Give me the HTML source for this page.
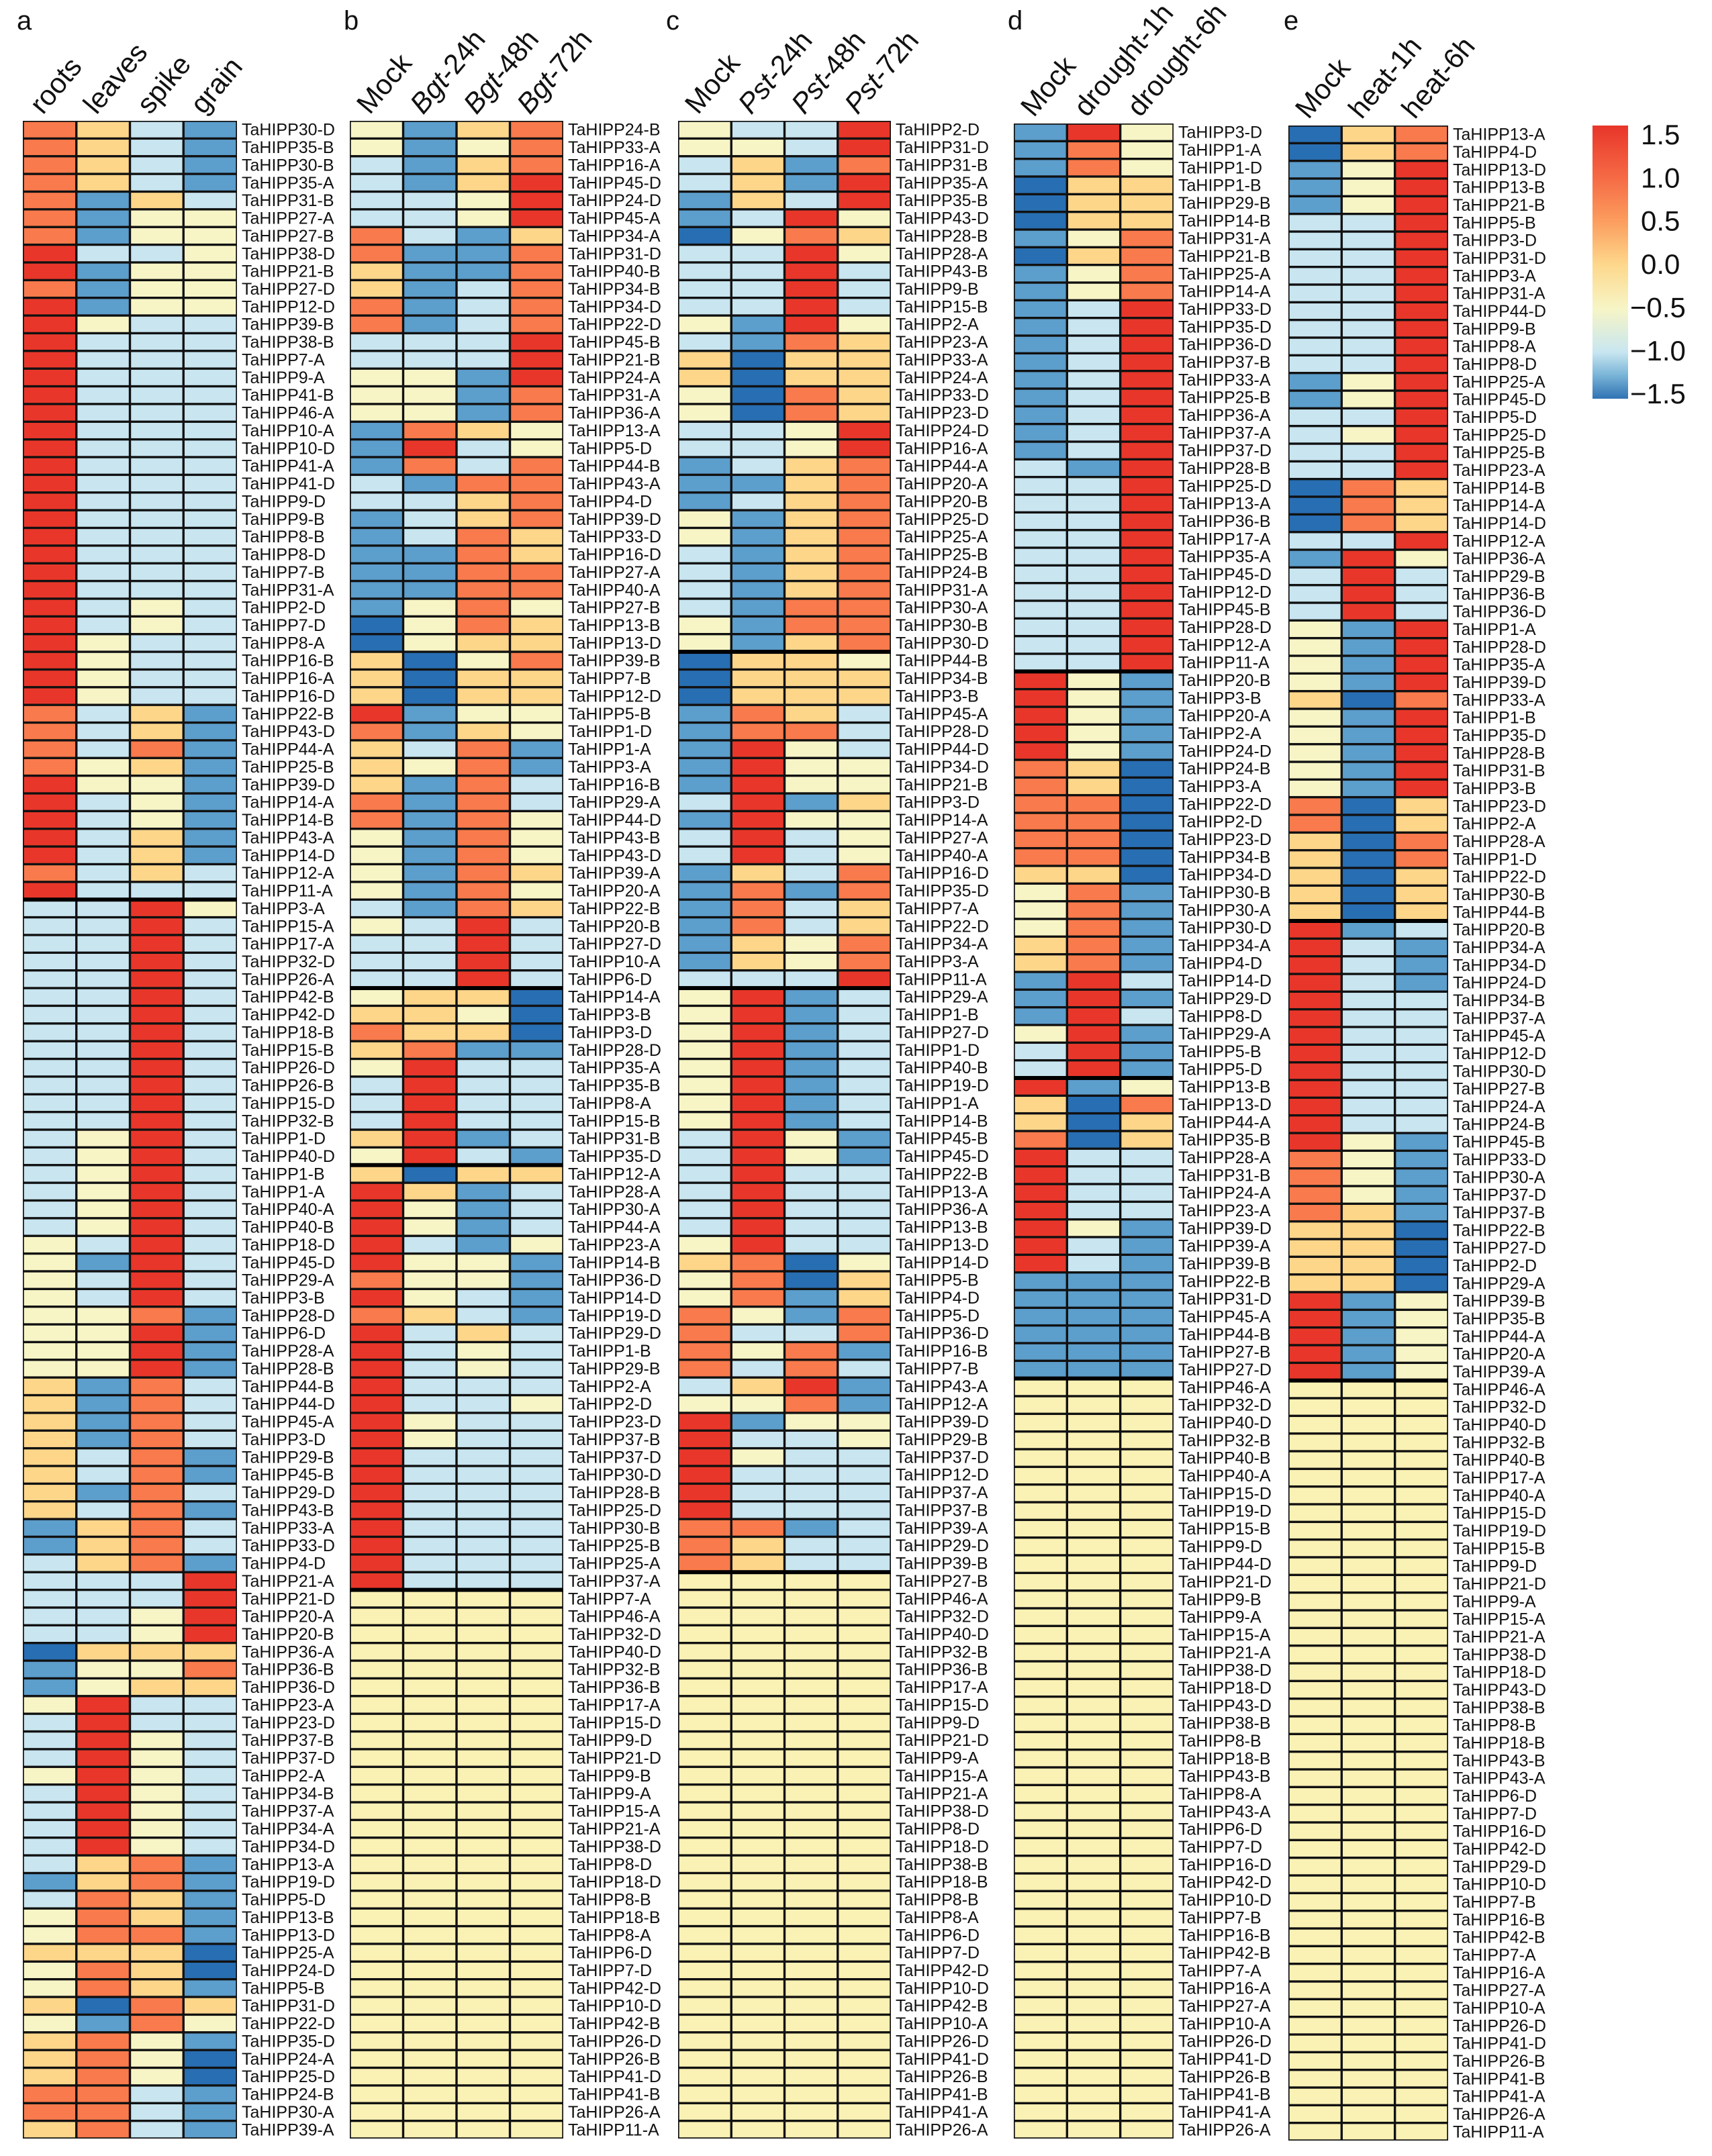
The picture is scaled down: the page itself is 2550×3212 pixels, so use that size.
<!DOCTYPE html>
<html><head><meta charset="utf-8">
<style>
html,body{margin:0;padding:0;background:#fff;}
svg{display:block;font-family:"Liberation Sans",Arial,sans-serif;}
</style></head>
<body>
<svg id="fig" width="2550" height="3212" viewBox="0 0 2550 3212" xmlns="http://www.w3.org/2000/svg">
<defs>
<linearGradient id="cbgrad" x1="0" y1="0" x2="0" y2="1">
<stop offset="0" stop-color="#e8352a"/>
<stop offset="0.19" stop-color="#f56a45"/>
<stop offset="0.35" stop-color="#fc9d5e"/>
<stop offset="0.51" stop-color="#fdd88c"/>
<stop offset="0.67" stop-color="#f7f5c6"/>
<stop offset="0.83" stop-color="#c8e6f1"/>
<stop offset="0.91" stop-color="#7db7d8"/>
<stop offset="1" stop-color="#2f73b4"/>
</linearGradient>
</defs>
<g id="layer"></g>
</svg>
<script>
// ---- data ----
const aCols = ["roots","leaves","spike","grain"];
const bCols = ["Mock","Bgt-24h","Bgt-48h","Bgt-72h"];
const cCols = ["Mock","Pst-24h","Pst-48h","Pst-72h"];
const dCols = ["Mock","drought-1h","drought-6h"];
const eCols = ["Mock","heat-1h","heat-6h"];

const aLabels = "30-D 35-B 30-B 35-A 31-B 27-A 27-B 38-D 21-B 27-D 12-D 39-B 38-B 7-A 9-A 41-B 46-A 10-A 10-D 41-A 41-D 9-D 9-B 8-B 8-D 7-B 31-A 2-D 7-D 8-A 16-B 16-A 16-D 22-B 43-D 44-A 25-B 39-D 14-A 14-B 43-A 14-D 12-A 11-A 3-A 15-A 17-A 32-D 26-A 42-B 42-D 18-B 15-B 26-D 26-B 15-D 32-B 1-D 40-D 1-B 1-A 40-A 40-B 18-D 45-D 29-A 3-B 28-D 6-D 28-A 28-B 44-B 44-D 45-A 3-D 29-B 45-B 29-D 43-B 33-A 33-D 4-D 21-A 21-D 20-A 20-B 36-A 36-B 36-D 23-A 23-D 37-B 37-D 2-A 34-B 37-A 34-A 34-D 13-A 19-D 5-D 13-B 13-D 25-A 24-D 5-B 31-D 22-D 35-D 24-A 25-D 24-B 30-A 39-A".split(" ");
const bLabels = "24-B 33-A 16-A 45-D 24-D 45-A 34-A 31-D 40-B 34-B 34-D 22-D 45-B 21-B 24-A 31-A 36-A 13-A 5-D 44-B 43-A 4-D 39-D 33-D 16-D 27-A 40-A 27-B 13-B 13-D 39-B 7-B 12-D 5-B 1-D 1-A 3-A 16-B 29-A 44-D 43-B 43-D 39-A 20-A 22-B 20-B 27-D 10-A 6-D 14-A 3-B 3-D 28-D 35-A 35-B 8-A 15-B 31-B 35-D 12-A 28-A 30-A 44-A 23-A 14-B 36-D 14-D 19-D 29-D 1-B 29-B 2-A 2-D 23-D 37-B 37-D 30-D 28-B 25-D 30-B 25-B 25-A 37-A 7-A 46-A 32-D 40-D 32-B 36-B 17-A 15-D 9-D 21-D 9-B 9-A 15-A 21-A 38-D 8-D 18-D 8-B 18-B 8-A 6-D 7-D 42-D 10-D 42-B 26-D 26-B 41-D 41-B 26-A 11-A".split(" ");
const cLabels = "2-D 31-D 31-B 35-A 35-B 43-D 28-B 28-A 43-B 9-B 15-B 2-A 23-A 33-A 24-A 33-D 23-D 24-D 16-A 44-A 20-A 20-B 25-D 25-A 25-B 24-B 31-A 30-A 30-B 30-D 44-B 34-B 3-B 45-A 28-D 44-D 34-D 21-B 3-D 14-A 27-A 40-A 16-D 35-D 7-A 22-D 34-A 3-A 11-A 29-A 1-B 27-D 1-D 40-B 19-D 1-A 14-B 45-B 45-D 22-B 13-A 36-A 13-B 13-D 14-D 5-B 4-D 5-D 36-D 16-B 7-B 43-A 12-A 39-D 29-B 37-D 12-D 37-A 37-B 39-A 29-D 39-B 27-B 46-A 32-D 40-D 32-B 36-B 17-A 15-D 9-D 21-D 9-A 15-A 21-A 38-D 8-D 18-D 38-B 18-B 8-B 8-A 6-D 7-D 42-D 10-D 42-B 10-A 26-D 41-D 26-B 41-B 41-A 26-A".split(" ");
const dLabels = "3-D 1-A 1-D 1-B 29-B 14-B 31-A 21-B 25-A 14-A 33-D 35-D 36-D 37-B 33-A 25-B 36-A 37-A 37-D 28-B 25-D 13-A 36-B 17-A 35-A 45-D 12-D 45-B 28-D 12-A 11-A 20-B 3-B 20-A 2-A 24-D 24-B 3-A 22-D 2-D 23-D 34-B 34-D 30-B 30-A 30-D 34-A 4-D 14-D 29-D 8-D 29-A 5-B 5-D 13-B 13-D 44-A 35-B 28-A 31-B 24-A 23-A 39-D 39-A 39-B 22-B 31-D 45-A 44-B 27-B 27-D 46-A 32-D 40-D 32-B 40-B 40-A 15-D 19-D 15-B 9-D 44-D 21-D 9-B 9-A 15-A 21-A 38-D 18-D 43-D 38-B 8-B 18-B 43-B 8-A 43-A 6-D 7-D 16-D 42-D 10-D 7-B 16-B 42-B 7-A 16-A 27-A 10-A 26-D 41-D 26-B 41-B 41-A 26-A".split(" ");
const eLabels = "13-A 4-D 13-D 13-B 21-B 5-B 3-D 31-D 3-A 31-A 44-D 9-B 8-A 8-D 25-A 45-D 5-D 25-D 25-B 23-A 14-B 14-A 14-D 12-A 36-A 29-B 36-B 36-D 1-A 28-D 35-A 39-D 33-A 1-B 35-D 28-B 31-B 3-B 23-D 2-A 28-A 1-D 22-D 30-B 44-B 20-B 34-A 34-D 24-D 34-B 37-A 45-A 12-D 30-D 27-B 24-A 24-B 45-B 33-D 30-A 37-D 37-B 22-B 27-D 2-D 29-A 39-B 35-B 44-A 20-A 39-A 46-A 32-D 40-D 32-B 40-B 17-A 40-A 15-D 19-D 15-B 9-D 21-D 9-A 15-A 21-A 38-D 18-D 43-D 38-B 8-B 18-B 43-B 43-A 6-D 7-D 16-D 42-D 29-D 10-D 7-B 16-B 42-B 7-A 16-A 27-A 10-A 26-D 41-D 26-B 41-B 41-A 26-A 11-A".split(" ");

// codes: 0..6 -> -1.5..1.5 ; n = not expressed
const aVals = ("5421 5421 5421 5421 5142 5133 5133 6223 6133 5133 6133 6322 6222 6222 6222 6222 6222 6222 6222 6222 6222 " +
"6222 6222 6222 6222 6222 6222 6232 6232 6322 6322 6322 6322 5241 5241 5251 5341 6331 6231 6231 6241 6241 " +
"5242 6222 2263 2262 2262 2262 2262 2262 2262 2262 2262 2262 2262 2262 2262 2362 2362 2362 2362 2362 2362 " +
"3262 3162 3262 3262 3351 3361 3361 3361 4152 4152 4152 4152 4251 4251 4152 4251 1452 1452 2451 2226 2226 " +
"2236 2236 0444 1335 1344 3622 2622 2632 2632 3632 2632 2632 2632 2632 2451 1451 2541 3541 3551 4440 3540 3541 4054 3153 4531 4530 4530 5521 5521 4521").split(" ");
const bVals = ("3145 3135 2145 2146 2236 2236 5214 5115 4115 4125 5125 5125 2226 2226 3316 3315 3315 1543 1623 1525 2155 " +
"2245 1245 1254 1154 1155 1155 1353 0354 0344 4035 4044 4044 6133 5143 4251 4351 4152 5152 5153 3153 3153 " +
"3154 3153 2154 3262 2262 2262 2262 3440 4430 5440 4511 3622 2622 2622 2622 4612 3621 4044 6412 6312 6312 " +
"6213 6331 5331 6321 5421 6242 6232 6232 6222 6223 6322 6322 6222 6222 6222 6222 6222 6222 6222 6222 " +
"nnnn ".repeat(31).trim()).split(" ");
const cVals = ("3226 3326 2415 2416 1426 1263 0354 2263 2262 2262 2262 3163 2154 4044 4044 3054 3054 2236 2236 1245 1145 " +
"1245 3145 3145 2145 2145 2145 2155 3155 3145 0443 0444 0444 1542 1552 1632 1633 1633 2614 1633 2623 2623 " +
"1425 1515 1524 1524 1435 1435 2226 3612 3612 3612 3612 3612 3612 3612 3612 2631 2631 2622 2622 2622 2622 " +
"3622 4503 3504 3514 5315 5225 5351 5252 2461 3351 6133 6223 6322 6222 6222 6222 5512 5422 5422 " +
"nnnn ".repeat(32).trim()).split(" ");
const dVals = ("163 153 153 044 044 044 135 045 135 135 126 126 126 126 126 126 126 126 126 216 226 " +
"226 226 226 226 226 226 226 226 226 226 631 631 631 631 631 540 540 550 550 550 550 " +
"440 351 351 351 451 451 162 161 162 361 261 261 613 405 404 504 622 622 622 622 631 " +
"621 621 111 111 111 111 111 111 " +
"nnn ".repeat(43).trim()).split(" ");
const eVals = ("045 045 136 136 136 226 226 226 226 226 226 226 226 226 136 136 226 236 226 226 054 " +
"054 054 226 163 262 262 262 316 316 316 316 405 316 316 316 316 316 504 504 405 405 " +
"404 404 404 612 621 621 621 622 622 622 622 622 622 622 622 631 531 531 531 541 440 " +
"440 440 440 613 613 613 613 613 " +
"nnn ".repeat(43).trim()).split(" ");

const cbTicks = [1.5, 1.0, 0.5, 0.0, -0.5, -1.0, -1.5];

// ---- scales ----
const stops = [[-1.5,[40,110,178]],[-1.0,[92,158,204]],[-0.5,[200,229,240]],[0,[247,245,198]],[0.5,[253,214,138]],[1.0,[249,122,76]],[1.5,[232,55,42]]];
function colorOf(v){
  if (v === null) return "#faf1b4";
  if (v <= stops[0][0]) return "rgb("+stops[0][1].join(",")+")";
  for (let i=1;i<stops.length;i++){
    if (v <= stops[i][0]){
      const t=(v-stops[i-1][0])/(stops[i][0]-stops[i-1][0]);
      const c=stops[i-1][1].map((x,k)=>Math.round(x+(stops[i][1][k]-x)*t));
      return "rgb("+c.join(",")+")";
    }
  }
  return "rgb("+stops[stops.length-1][1].join(",")+")";
}
function codeToVal(ch){ return ch==="n" ? null : (parseInt(ch,10)-3)*0.5; }

const NS="http://www.w3.org/2000/svg";
const layer=document.getElementById("layer");
function mk(tag,attrs,parent){const el=document.createElementNS(NS,tag);for(const k in attrs)el.setAttribute(k,attrs[k]);(parent||layer).appendChild(el);return el;}

const panels = [
  {id:"a", letterX:25, x0:34, x1:353, top:180, bottom:3186, cols:aCols, labels:aLabels, vals:aVals, seps:[44]},
  {id:"b", letterX:512, x0:521, x1:839, top:180, bottom:3186, cols:bCols, labels:bLabels, vals:bVals, seps:[49,59,83]},
  {id:"c", letterX:992, x0:1010, x1:1327, top:180, bottom:3186, cols:cCols, labels:cLabels, vals:cVals, seps:[30,49,82]},
  {id:"d", letterX:1501, x0:1510, x1:1748, top:184, bottom:3186, cols:dCols, labels:dLabels, vals:dVals, seps:[31,54,71]},
  {id:"e", letterX:1912, x0:1919, x1:2157, top:187, bottom:3189, cols:eCols, labels:eLabels, vals:eVals, seps:[45,71]}
];

panels.forEach(p=>{
  const g=mk("g",{});
  
  
  const nR=p.vals.length, nC=p.cols.length;
  const cw=(p.x1-p.x0)/nC, rh=(p.bottom-p.top)/nR;
  const letter=mk("text",{x:p.letterX,y:44,"font-size":40,fill:"#111"},g);
  letter.textContent=p.id;
  
  
  const bg=mk("rect",{x:p.x0,y:p.top,width:p.x1-p.x0,height:p.bottom-p.top,fill:"#111"},g);
  
  
  const ins=1.7;
  for(let r=0;r<nR;r++){
    const codes=p.vals[r];
    for(let c=0;c<nC;c++){
      const v=codeToVal(codes[c]);
      const cell=mk("rect",{x:(p.x0+c*cw+ins).toFixed(2),y:(p.top+r*rh+ins).toFixed(2),width:(cw-2*ins).toFixed(2),height:(rh-2*ins).toFixed(2),fill:colorOf(v)},g);
      
      
    }
    const lab=mk("text",{x:p.x1+7,y:(p.top+(r+0.5)*rh+8.5).toFixed(2),"font-size":25,fill:"#111"},g);
    lab.textContent="TaHIPP"+(p.labels[r]||"");
    
    
  }
  p.seps.forEach(s=>{
    const sep=mk("rect",{x:p.x0,y:(p.top+s*rh-3).toFixed(2),width:p.x1-p.x0,height:6,fill:"#000"},g);
    
    
  });
  p.cols.forEach((name,c)=>{
    const cx=p.x0+(c+0.5)*cw;
    const t=mk("text",{transform:"translate("+(cx-10).toFixed(1)+","+(p.top-8)+") rotate(-50)","font-size":42,fill:"#111"},g);
    const m=name.match(/^(Bgt|Pst)(-.*)$/);
    if(m){
      const t1=mk("tspan",{"font-style":"italic"},t); t1.textContent=m[1];
      const t2=mk("tspan",{},t); t2.textContent=m[2];
    } else t.textContent=name;
    
    
  });
});

// colorbar
const cb=mk("rect",{x:2372,y:187,width:53,height:407,fill:"url(#cbgrad)"});


function cbY(v){return 200+(1.5-v)*128.7;}
cbTicks.forEach(v=>{
  const t=mk("text",{x:v<0?2428:2444,y:(cbY(v)+15).toFixed(1),"font-size":42,fill:"#111"});
  t.textContent=(v<0?"\u2212":"")+Math.abs(v).toFixed(1);
  
  
});
</script>
</body></html>
